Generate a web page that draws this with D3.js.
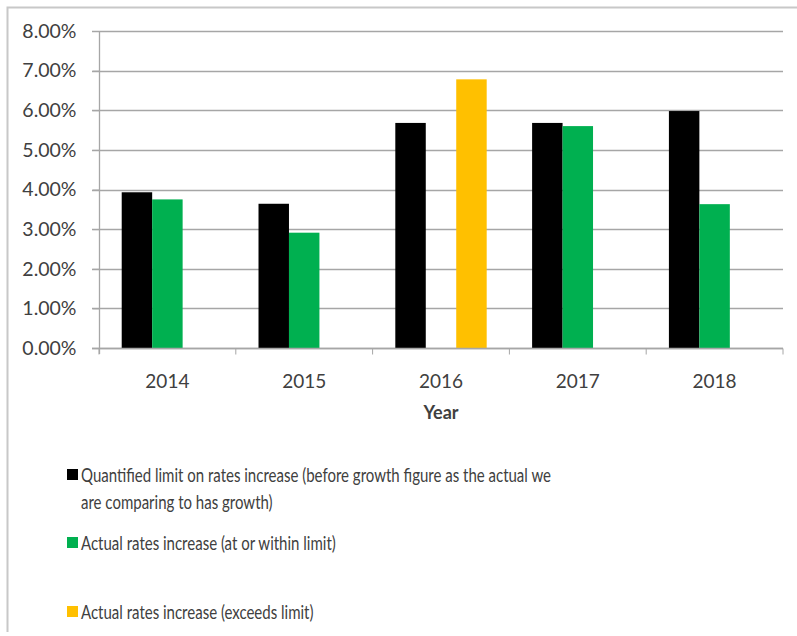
<!DOCTYPE html>
<html>
<head>
<meta charset="utf-8">
<script src="https://cdn.jsdelivr.net/npm/d3@7"></script>
<style>
  html, body { margin: 0; padding: 0; background: #fff; }
  svg { display: block; }
  text { font-family: Lato, "Open Sans", sans-serif; fill: #404040; }
</style>
</head>
<body>
<svg id="chart" width="797" height="636"></svg>
<script>
// Rate increase per year (percent)
const years = ["2014", "2015", "2016", "2017", "2018"];
const limitValues = [3.93, 3.64, 5.68, 5.68, 5.98];
const withinValues = [3.75, 2.91, null, 5.60, 3.63];
const exceedsValues = [null, null, 6.78, null, null];
const yTicks = [0, 1, 2, 3, 4, 5, 6, 7, 8];

const seriesNames = [
  ["Quantified limit on rates increase (before growth figure as the actual we",
   "are comparing to has growth)"],
  ["Actual rates increase (at or within limit)"],
  ["Actual rates increase (exceeds limit)"]
];
const seriesColors = ["#000000", "#00B050", "#FFC000"];
const seriesValues = [limitValues, withinValues, exceedsValues];

const svg = d3.select("#chart");

// outer frame
svg.append("path")
  .attr("d", "M7.5,632 L7.5,7.5 L797,7.5")
  .attr("fill", "none").attr("stroke", "#c8c8c8").attr("stroke-width", 2);

const plot = { left: 99, right: 783, top: 31, bottom: 348 };

const x = d3.scaleBand().domain(years).range([plot.left, plot.right]).paddingInner(0).paddingOuter(0);
const y = d3.scaleLinear().domain([0, 8]).range([plot.bottom, plot.top]);

// gridlines
svg.append("g").selectAll("line").data(yTicks).join("line")
  .attr("x1", plot.left - 7).attr("x2", plot.right)
  .attr("y1", d => Math.round(y(d)) + 0.5).attr("y2", d => Math.round(y(d)) + 0.5)
  .attr("stroke", "#a6a6a6").attr("stroke-width", 1.3);

// clustered bars: three series per year
const groupPad = x.bandwidth() * 0.166;
const inner = d3.scaleBand().domain([0, 1, 2])
  .range([groupPad, x.bandwidth() - groupPad]).padding(0);

const bars = [];
seriesValues.forEach((vals, si) => {
  vals.forEach((v, i) => { if (v != null) bars.push({ year: years[i], s: si, v }); });
});
svg.append("g").selectAll("rect").data(bars).join("rect")
  .attr("x", d => x(d.year) + inner(d.s))
  .attr("width", inner.bandwidth())
  .attr("y", d => y(d.v))
  .attr("height", d => y(0) - y(d.v))
  .attr("fill", d => seriesColors[d.s]);

// y axis
const yAxis = svg.append("g").attr("transform", `translate(${plot.left + 0.5},0)`)
  .call(d3.axisLeft(y).tickValues(yTicks).tickSize(7).tickPadding(16)
    .tickFormat(d => d.toFixed(2) + "%"));
yAxis.select(".domain").attr("stroke", "#a6a6a6").attr("stroke-width", 1.3)
  .attr("d", `M0,${plot.top} V${plot.bottom + 6}`);
yAxis.selectAll(".tick line").attr("stroke", "#a6a6a6");
yAxis.selectAll(".tick text").attr("font-size", 19.5).attr("fill", "#404040");

// x axis with ticks at category boundaries
const xAxis = svg.append("g").attr("transform", `translate(0,${Math.round(plot.bottom) + 0.5})`);
xAxis.append("line").attr("x1", plot.left - 7).attr("x2", plot.right)
  .attr("stroke", "#a6a6a6").attr("stroke-width", 1.3);
const bounds = years.map(d => x(d)).concat([plot.right]);
xAxis.selectAll("line.tk").data(bounds).join("line").attr("class", "tk")
  .attr("x1", d => d).attr("x2", d => d).attr("y1", 0).attr("y2", 6)
  .attr("stroke", "#a6a6a6");
xAxis.selectAll("text").data(years).join("text")
  .attr("x", d => x(d) + x.bandwidth() / 2).attr("y", 39)
  .attr("text-anchor", "middle").attr("font-size", 19).text(d => d);

svg.append("text").attr("x", (plot.left + plot.right) / 2).attr("y", 419)
  .attr("text-anchor", "middle").attr("font-size", 18).attr("font-weight", "bold")
  .attr("fill", "#000").text("Year");

// legend (text condensed horizontally)
const legendRows = [475, 543, 612];
const legendTextX = 81, condense = 0.79;
const legend = svg.append("g").attr("class", "legend");
seriesNames.forEach((lines, i) => {
  const yy = legendRows[i];
  legend.append("rect").attr("x", 67).attr("y", yy - 6).attr("width", 11).attr("height", 11)
    .attr("fill", seriesColors[i]);
  lines.forEach((ln, j) => {
    legend.append("text")
      .attr("transform", `translate(${legendTextX},${yy + 7 + j * 27}) scale(${condense},1)`)
      .attr("font-size", 19).attr("fill", "#262626").text(ln);
  });
});
</script>
</body>
</html>
